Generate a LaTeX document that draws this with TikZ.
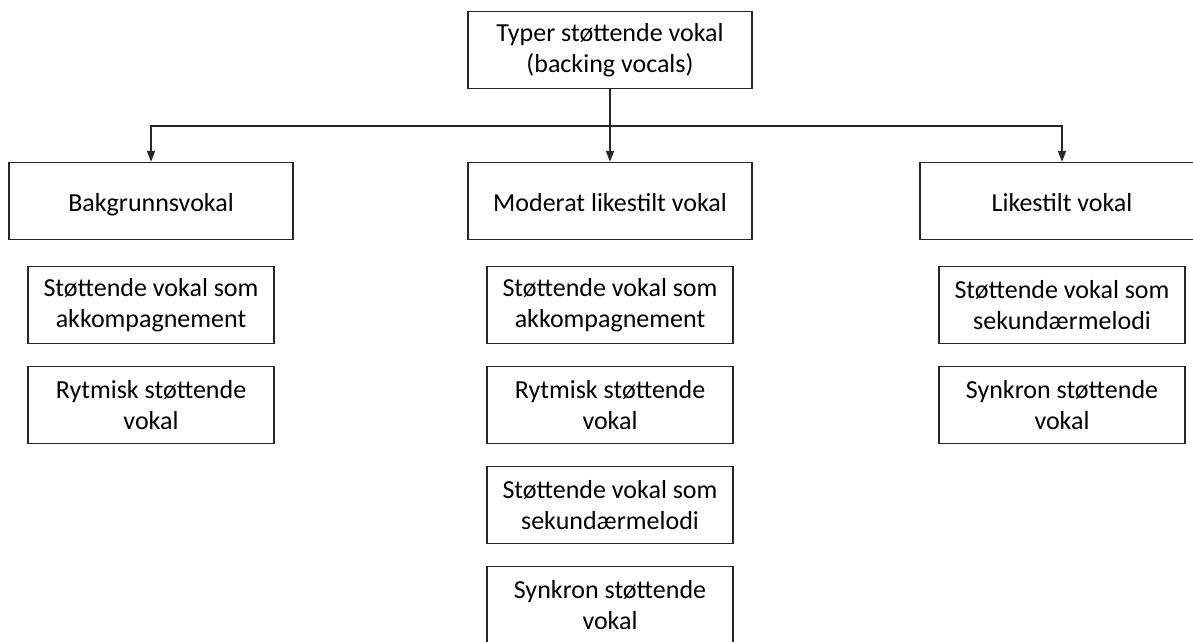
\documentclass[tikz,border=0pt]{standalone}
\usepackage{fontspec}
\setmainfont{Carlito}
\usetikzlibrary{arrows.meta}

\tikzset{
  boks/.style={draw=black!85, line width=1.3pt, minimum width=284pt, minimum height=77pt,
    align=center, inner sep=0pt, font=\fontsize{26pt}{31pt}\selectfont},
  enlinje/.style={boks, text height=26pt, text depth=5pt},
  underboks/.style={boks, minimum width=246pt},
  pil/.style={line width=1.3pt, black!85, -{Triangle[length=11pt,width=8pt]}}
}

\begin{document}
\begin{tikzpicture}[x=1pt,y=-1pt]
               \useasboundingbox (0,0) rectangle (1193,641);
               \fill [white] (0,0) rectangle (1193,641);
               % top box
               \node [boks] (typer) at (610,50) {Typer støttende vokal\\(backing vocals)};
               % second row
               \node [enlinje] (bakgrunn) at (151,201) {Bakgrunnsvokal};
               \node [enlinje] (moderat) at (610,201) {Moderat likestilt vokal};
               \node [enlinje] (likestilt) at (1062,201) {Likestilt vokal};
               % lines and arrows
               \coordinate (skinne) at (610,126);
               \draw [pil] (typer.south) -- (moderat.north);
               \draw [pil] (skinne) -| (bakgrunn.north);
               \draw [pil] (skinne) -| (likestilt.north);
               % under Bakgrunnsvokal
               \node [underboks] (b1) at (151,305) {Støttende vokal som\\akkompagnement};
               \node [underboks] (b2) at (151,405) {Rytmisk støttende\\vokal};
               % under Moderat likestilt vokal
               \node [underboks] (m1) at (610,305) {Støttende vokal som\\akkompagnement};
               \node [underboks] (m2) at (610,405) {Rytmisk støttende\\vokal};
               \node [underboks] (m3) at (610,505) {Støttende vokal som\\sekundærmelodi};
               \node [underboks] (m4) at (610,605) {Synkron støttende\\vokal};
               % under Likestilt vokal
               \node [underboks] (l1) at (1062,305) {Støttende vokal som\\sekundærmelodi};
               \node [underboks] (l2) at (1062,405) {Synkron støttende\\vokal};
            \end{tikzpicture}
\end{document}
